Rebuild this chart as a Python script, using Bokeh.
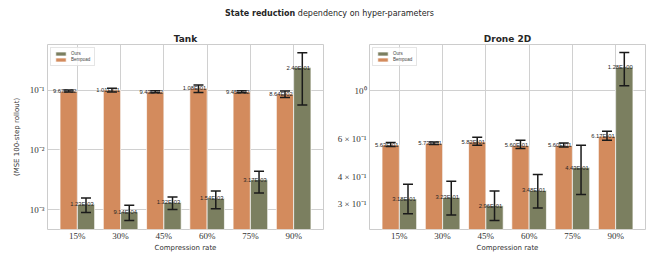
from bokeh.plotting import figure
from bokeh.models import (ColumnDataSource, FactorRange, Range1d, FixedTicker,
                          Legend, LegendItem, Div)
from bokeh.transform import dodge
from bokeh.layouts import column, row
from bokeh.core.properties import value
from bokeh.embed import file_html
from bokeh.resources import INLINE

cats = ["15%", "30%", "45%", "60%", "75%", "90%"]

# Tank
tank_bemp = [9.67e-2, 1.01e-1, 9.43e-2, 1.08e-1, 9.45e-2, 8.64e-2]
tank_bemp_lo = [0.0937, 0.0937, 0.0910, 0.0915, 0.0910, 0.0756]
tank_bemp_hi = [0.1010, 0.1080, 0.0985, 0.1226, 0.0980, 0.0974]
tank_ours = [1.23e-3, 9.14e-4, 1.32e-3, 1.54e-3, 3.17e-3, 2.40e-1]
tank_ours_lo = [8.9e-4, 6.55e-4, 1.0e-3, 1.03e-3, 1.9e-3, 0.0569]
tank_ours_hi = [1.57e-3, 1.18e-3, 1.63e-3, 2.05e-3, 4.41e-3, 0.425]

# Drone 2D
drone_bemp = [5.63e-1, 5.73e-1, 5.82e-1, 5.60e-1, 5.60e-1, 6.17e-1]
drone_bemp_lo = [0.553, 0.565, 0.561, 0.542, 0.551, 0.591]
drone_bemp_hi = [0.577, 0.581, 0.610, 0.591, 0.575, 0.650]
drone_ours = [3.18e-1, 3.23e-1, 2.96e-1, 3.48e-1, 4.43e-1, 1.28e0]
drone_ours_lo = [0.2715, 0.268, 0.253, 0.289, 0.333, 1.054]
drone_ours_hi = [0.371, 0.383, 0.346, 0.412, 0.561, 1.497]

tank_yticks = [1e-3, 1e-2, 1e-1]
tank_ylabels = ["10⁻³", "10⁻²", "10⁻¹"]
drone_yticks = [0.3, 0.4, 0.6, 1.0]
drone_ylabels = ["3 × 10⁻¹", "4 × 10⁻¹", "6 × 10⁻¹", "10⁰"]

ORANGE = "#D38B5D"
GREEN = "#7B7F60"
TXT = "#262626"
GRID = "#d0d0d0"


def make(title, bemp, blo, bhi, ours, olo, ohi, yr, yticks, ylabels, gridticks,
         width, bl, br, ylabel):
    src = ColumnDataSource(dict(
        cat=cats, bemp=bemp, blo=blo, bhi=bhi, ours=ours, olo=olo, ohi=ohi,
        bemp_lab=[f"{v:.2E}" for v in bemp], ours_lab=[f"{v:.2E}" for v in ours],
    ))
    p = figure(x_range=FactorRange(factors=cats, range_padding=0.19,
                                   range_padding_units="absolute"),
               y_axis_type="log", y_range=Range1d(*yr), width=width, height=232,
               output_backend="svg", toolbar_location=None,
               min_border_left=bl, min_border_right=br, min_border_top=22,
               min_border_bottom=22)
    p.title.text = title
    p.title.align = "center"
    p.title.text_font = "DejaVu Sans"
    p.title.text_font_size = "9px"
    p.title.text_font_style = "bold"
    p.title.text_color = TXT
    p.title.standoff = 2
    p.outline_line_color = "#cccccc"
    p.outline_line_width = 1

    xb = dodge("cat", -0.2, range=p.x_range)
    xo = dodge("cat", 0.2, range=p.x_range)
    rb = p.vbar(x=xb, top="bemp", bottom=1e-9, width=0.4, source=src,
                fill_color=ORANGE, line_color="white", line_width=0.7)
    ro = p.vbar(x=xo, top="ours", bottom=1e-9, width=0.4, source=src,
                fill_color=GREEN, line_color="white", line_width=0.7)
    for xx, lo, hi in ((xb, "blo", "bhi"), (xo, "olo", "ohi")):
        p.segment(x0=xx, y0=lo, x1=xx, y1=hi, source=src,
                  line_color="#1a1a1a", line_width=1.5)
        for yy in (lo, hi):
            p.scatter(x=xx, y=yy, source=src, marker="dash", size=10,
                      line_color="#1a1a1a", line_width=1.5)
    for xx, yy, lab in ((xb, "bemp", "bemp_lab"), (xo, "ours", "ours_lab")):
        p.text(x=xx, y=yy, text=lab, source=src,
               text_font=value("Liberation Sans"), text_font_size="5.8px",
               text_align="center", text_baseline="alphabetic",
               x_offset=-4, y_offset=0, text_color=TXT)

    legend = Legend(items=[LegendItem(label="Ours", renderers=[ro]),
                           LegendItem(label="Bempoad", renderers=[rb])],
                    location="top_left", margin=3, padding=3, spacing=1,
                    glyph_width=13, glyph_height=5, label_height=5,
                    label_text_font="Liberation Sans", label_text_font_size="4.5px",
                    label_text_color="#444444", label_standoff=4,
                    border_line_color="#cccccc", border_line_width=0.8,
                    background_fill_alpha=0.8)
    p.add_layout(legend)

    for ax in (p.xaxis, p.yaxis):
        ax.major_tick_line_color = None
        ax.minor_tick_line_color = None
        ax.major_tick_out = 0
        ax.major_tick_in = 0
        ax.minor_tick_out = 0
        ax.minor_tick_in = 0
        ax.axis_line_color = None
        ax.major_label_text_font = "Liberation Serif"
        ax.major_label_text_font_size = "9px"
        ax.major_label_text_color = "#333333"
        ax.major_label_standoff = 3

    p.xaxis.major_label_standoff = 1
    p.xaxis.axis_label = "Compression rate"
    p.xaxis.axis_label_text_font = "DejaVu Sans"
    p.xaxis.axis_label_text_font_size = "7px"
    p.xaxis.axis_label_text_font_style = "normal"
    p.xaxis.axis_label_text_color = "#333333"
    p.xaxis.axis_label_standoff = 0

    p.yaxis.ticker = FixedTicker(ticks=yticks)
    p.yaxis.major_label_overrides = dict(zip(yticks, ylabels))
    if ylabel:
        p.yaxis.axis_label = ylabel
        p.yaxis.axis_label_text_font = "DejaVu Sans"
        p.yaxis.axis_label_text_font_size = "7px"
        p.yaxis.axis_label_text_font_style = "normal"
        p.yaxis.axis_label_text_color = "#333333"
        p.yaxis.axis_label_standoff = 6

    p.ygrid.ticker = FixedTicker(ticks=gridticks)
    p.ygrid.grid_line_color = GRID
    p.xgrid.grid_line_color = GRID
    return p


p1 = make("Tank", tank_bemp, tank_bemp_lo, tank_bemp_hi, tank_ours, tank_ours_lo,
          tank_ours_hi, (4.64e-4, 0.585), tank_yticks, tank_ylabels, tank_yticks,
          332, 47, 9, "(MSE 100-step rollout)")
p2 = make("Drone 2D", drone_bemp, drone_bemp_lo, drone_bemp_hi, drone_ours,
          drone_ours_lo, drone_ours_hi, (0.23, 1.63), drone_yticks, drone_ylabels,
          [1.0], 315, 37, 2, None)

title = Div(text="<b>State reduction</b> dependency on hyper-parameters",
            width=647, height=14, margin=(8, 0, 0, 0),
            styles={"text-align": "center", "font-family": "DejaVu Sans",
                    "font-size": "8px", "color": TXT, "width": "647px",
                    "padding-left": "12px", "box-sizing": "border-box"})

layout = column(title, row(p1, p2))
open("out.html", "w").write(file_html(layout, INLINE))
